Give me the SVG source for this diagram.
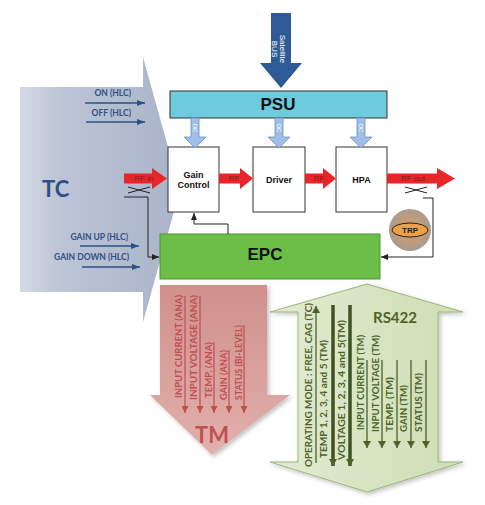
<svg xmlns="http://www.w3.org/2000/svg" width="485" height="505" viewBox="0 0 485 505">
<style>
.lbl{font-family:Lato,"Open Sans","DejaVu Sans",sans-serif;font-weight:bold}
.ar{font-family:"Liberation Sans",Arial,sans-serif;font-weight:bold}
.hlc{font-family:Lato,"Open Sans",sans-serif;font-weight:bold;font-size:8.5px;fill:#2f4f85;text-anchor:end}
.box{fill:#ffffff;stroke:#333333;stroke-width:1}
.rf{fill:#e8262a}
.rft{font-family:"Liberation Sans",Arial,sans-serif;font-size:8px;fill:#8b1a1a;text-anchor:middle}
.dc{fill:#9dbfe8;stroke:#6f8fc0;stroke-width:0.8}
.dct{font-family:"Liberation Sans",Arial,sans-serif;font-size:6px;fill:#ffffff;text-anchor:middle}
.blue{stroke:#2f4f85;stroke-width:1.5;fill:none;marker-end:url(#mBlue)}
.conn{stroke:#222222;stroke-width:1;fill:none;marker-end:url(#mBlack)}
.cpl{stroke:#222222;stroke-width:1;fill:none}
.tmt{font-family:Lato,"Open Sans",sans-serif;font-weight:bold;font-size:9.5px;fill:#c0504d}
.tma{stroke:#c0504d;stroke-width:1.2;fill:none;marker-end:url(#mRed)}
.rst{font-family:Lato,"Open Sans",sans-serif;font-weight:bold;font-size:9.5px;fill:#4f6228}
.rsa{stroke:#4f6228;stroke-width:1.3;fill:none;marker-end:url(#mGreen)}
.rsk{stroke:#3f5220;stroke-width:3.5;fill:none;marker-end:url(#mGreen)}
</style>
<defs>
<linearGradient id="gTC" x1="0" y1="0" x2="1" y2="0">
<stop offset="0" stop-color="#d4d9e4"/><stop offset="0.25" stop-color="#bcc5d6"/><stop offset="1" stop-color="#aab4c9"/>
</linearGradient>
<linearGradient id="gTM" x1="0" y1="0" x2="0" y2="1">
<stop offset="0" stop-color="#d0908c"/><stop offset="1" stop-color="#e2b0ad"/>
</linearGradient>
<linearGradient id="gRS" x1="0" y1="0" x2="1" y2="0">
<stop offset="0" stop-color="#e2ebd3"/><stop offset="1" stop-color="#cddeb3"/>
</linearGradient>
<radialGradient id="gTRP"><stop offset="0.5" stop-color="#c49c78"/><stop offset="1" stop-color="#aa9b8e"/></radialGradient>
<filter id="sh" x="-10%" y="-10%" width="130%" height="130%"><feDropShadow dx="2" dy="2" stdDeviation="2" flood-color="#000000" flood-opacity="0.25"/></filter>
<marker id="mBlue" viewBox="0 0 8 6" refX="8" refY="3" markerWidth="8" markerHeight="6" markerUnits="userSpaceOnUse" orient="auto"><path d="M0,0 L8,3 L0,6 z" fill="#2f4f85"/></marker>
<marker id="mBlack" viewBox="0 0 7 6" refX="7" refY="3" markerWidth="7" markerHeight="6" markerUnits="userSpaceOnUse" orient="auto"><path d="M0,0 L7,3 L0,6 z" fill="#222222"/></marker>
<marker id="mRed" viewBox="0 0 7 7" refX="7" refY="3.5" markerWidth="7" markerHeight="7" markerUnits="userSpaceOnUse" orient="auto"><path d="M0,0 L7,3.5 L0,7 z" fill="#c0504d"/></marker>
<marker id="mGreen" viewBox="0 0 7 8" refX="7" refY="4" markerWidth="7" markerHeight="8" markerUnits="userSpaceOnUse" orient="auto"><path d="M0,0 L7,4 L0,8 z" fill="#4f6228"/></marker>
</defs>

<g id="tc">
<path d="M20,87 H143 V57 L180,190 L143,322 V292 H20 Z" fill="url(#gTC)"/>
<text class="lbl" x="42" y="197" font-size="22" fill="#2f4f85">TC</text>
<text class="hlc" x="131" y="96">ON (HLC)</text>
<text class="hlc" x="131" y="116">OFF (HLC)</text>
<text class="hlc" x="128" y="240">GAIN UP (HLC)</text>
<text class="hlc" x="129" y="260">GAIN DOWN (HLC)</text>
</g>

<g id="tm">
<path d="M160,285 H267 V395 H290 L212,455 L150,395 H160 Z" fill="url(#gTM)" filter="url(#sh)"/>
<text class="tmt" transform="translate(181.5,398) rotate(-90)" textLength="103" lengthAdjust="spacingAndGlyphs">INPUT CURRENT (ANA)</text>
<text class="tmt" transform="translate(196.5,400) rotate(-90)" textLength="105" lengthAdjust="spacingAndGlyphs">INPUT VOLTAGE (ANA)</text>
<text class="tmt" transform="translate(211.5,398) rotate(-90)" textLength="56" lengthAdjust="spacingAndGlyphs">TEMP. (ANA)</text>
<text class="tmt" transform="translate(226.5,400) rotate(-90)" textLength="50" lengthAdjust="spacingAndGlyphs">GAIN (ANA)</text>
<text class="tmt" transform="translate(241.5,400) rotate(-90)" textLength="75" lengthAdjust="spacingAndGlyphs">STATUS (BI-LEVEL)</text>
<line class="tma" x1="185" y1="296" x2="185" y2="413"/>
<line class="tma" x1="200" y1="296" x2="200" y2="413"/>
<line class="tma" x1="214" y1="342" x2="214" y2="413"/>
<line class="tma" x1="229" y1="350" x2="229" y2="413"/>
<line class="tma" x1="244" y1="325" x2="244" y2="413"/>
<text class="lbl" x="212" y="443" font-size="22" fill="#c0504d" text-anchor="middle">TM</text>
</g>

<g id="rs422">
<path d="M367,284 L463,312 H438 V462 H463 L367,492 L270,462 H298 V312 H270 Z" fill="url(#gRS)" stroke="#9cb57a" stroke-width="1" filter="url(#sh)"/>
<text class="lbl" x="395" y="323" font-size="15" fill="#4f6228" text-anchor="middle">RS422</text>
<text class="rst" transform="translate(311.5,467) rotate(-90)" textLength="164" lengthAdjust="spacingAndGlyphs">OPERATING MODE : FREE, CAG (TC)</text>
<text class="rst" transform="translate(326.5,458) rotate(-90)" textLength="118" lengthAdjust="spacingAndGlyphs">TEMP 1, 2, 3, 4 and 5 (TM)</text>
<text class="rst" transform="translate(344.5,460) rotate(-90)" textLength="140" lengthAdjust="spacingAndGlyphs">VOLTAGE 1, 2, 3, 4 and 5(TM)</text>
<text class="rst" transform="translate(363.5,430) rotate(-90)" textLength="95" lengthAdjust="spacingAndGlyphs">INPUT CURRENT (TM)</text>
<text class="rst" transform="translate(378.5,432) rotate(-90)" textLength="97" lengthAdjust="spacingAndGlyphs">INPUT VOLTAGE (TM)</text>
<text class="rst" transform="translate(392.5,432) rotate(-90)" textLength="55" lengthAdjust="spacingAndGlyphs">TEMP. (TM)</text>
<text class="rst" transform="translate(406.5,432) rotate(-90)" textLength="47" lengthAdjust="spacingAndGlyphs">GAIN (TM)</text>
<text class="rst" transform="translate(421.5,432) rotate(-90)" textLength="59" lengthAdjust="spacingAndGlyphs">STATUS (TM)</text>
<line class="rsa" x1="316" y1="463" x2="316" y2="306"/>
<line class="rsk" x1="333" y1="305" x2="333" y2="466"/>
<line class="rsk" x1="350" y1="305" x2="350" y2="466"/>
<line class="rsa" x1="367" y1="360" x2="367" y2="448"/>
<line class="rsa" x1="382" y1="360" x2="382" y2="448"/>
<line class="rsa" x1="397" y1="360" x2="397" y2="448"/>
<line class="rsa" x1="411" y1="360" x2="411" y2="448"/>
<line class="rsa" x1="426" y1="360" x2="426" y2="448"/>
</g>

<g id="satellite-bus">
<polygon points="271,13 291,13 291,63 302,63 281,88 260,63 271,63" fill="#2e5a96"/>
<text class="ar" transform="translate(280,49) rotate(90)" font-size="8" font-weight="normal" fill="#ffffff" text-anchor="middle" style="font-weight:normal">Satellite</text>
<text class="ar" transform="translate(272,49) rotate(90)" font-size="8" fill="#ffffff" text-anchor="middle" style="font-weight:normal">BUS</text>
</g>

<g id="psu">
<rect x="170" y="91" width="217" height="27" fill="#6ecbdd" stroke="#333333" stroke-width="1"/>
<text class="ar" x="278" y="110" font-size="17" fill="#111111" text-anchor="middle">PSU</text>
</g>

<g id="gain-control">
<rect class="box" x="168" y="147" width="51" height="65"/>
<text class="ar" x="193.5" y="178" font-size="9" fill="#111111" text-anchor="middle">Gain</text>
<text class="ar" x="193.5" y="188" font-size="9" fill="#111111" text-anchor="middle">Control</text>
</g>
<g id="driver">
<rect class="box" x="253" y="147" width="52" height="65"/>
<text class="ar" x="279" y="183" font-size="9" fill="#111111" text-anchor="middle">Driver</text>
</g>
<g id="hpa">
<rect class="box" x="336" y="147" width="51" height="65"/>
<text class="ar" x="361.5" y="183" font-size="9" fill="#111111" text-anchor="middle">HPA</text>
</g>

<g id="epc">
<rect x="160" y="234" width="220" height="45" fill="#6cbf46" stroke="#4f8f35" stroke-width="1"/>
<text class="ar" x="265" y="260" font-size="17" fill="#111111" text-anchor="middle">EPC</text>
</g>

<g id="trp">
<circle cx="410" cy="230" r="21" fill="url(#gTRP)"/>
<ellipse cx="410" cy="230" rx="18" ry="7" fill="#f0a040" stroke="#222222" stroke-width="1"/>
<text class="ar" x="410" y="233" font-size="8" fill="#222222" text-anchor="middle">TRP</text>
</g>

<g id="connectors">
<line class="blue" x1="85" y1="103" x2="145" y2="103"/>
<line class="blue" x1="86" y1="122" x2="145" y2="122"/>
<line class="blue" x1="80" y1="246" x2="139" y2="246"/>
<line class="blue" x1="82" y1="267" x2="140" y2="267"/>
<polygon class="dc" points="191,118 199,118 199,137 206,137 195,148 184,137 191,137"/>
<polygon class="dc" points="275,118 283,118 283,137 290,137 279,148 268,137 275,137"/>
<polygon class="dc" points="357,118 365,118 365,137 372,137 361,148 350,137 357,137"/>
<text class="dct" transform="translate(193,128) rotate(90)">DC</text>
<text class="dct" transform="translate(277,128) rotate(90)">DC</text>
<text class="dct" transform="translate(359,128) rotate(90)">DC</text>
<polygon class="rf" points="124,173.5 152,173.5 152,168 167,178.5 152,189 152,183.5 124,183.5"/>
<polygon class="rf" points="219,173.5 240,173.5 240,168 253,178.5 240,189 240,183.5 219,183.5"/>
<polygon class="rf" points="305,173.5 323,173.5 323,168 336,178.5 323,189 323,183.5 305,183.5"/>
<polygon class="rf" points="387,173.5 437,173.5 437,168 455,178.5 437,189 437,183.5 387,183.5"/>
<text class="rft" x="144" y="181">RF in</text>
<text class="rft" x="234" y="181">RF</text>
<text class="rft" x="319" y="181">RF</text>
<text class="rft" x="413" y="181">RF out</text>
<path class="cpl" d="M128,187 L150,193 M128,193 L150,187"/>
<path class="cpl" d="M405,187 L427,193 M405,193 L427,187"/>
<path class="conn" d="M124,197 H148 V257 H159"/>
<path class="conn" d="M423,198 H433 V257 H381"/>
<path class="conn" d="M228,234 V224 H194 V213"/>
</g>
</svg>
